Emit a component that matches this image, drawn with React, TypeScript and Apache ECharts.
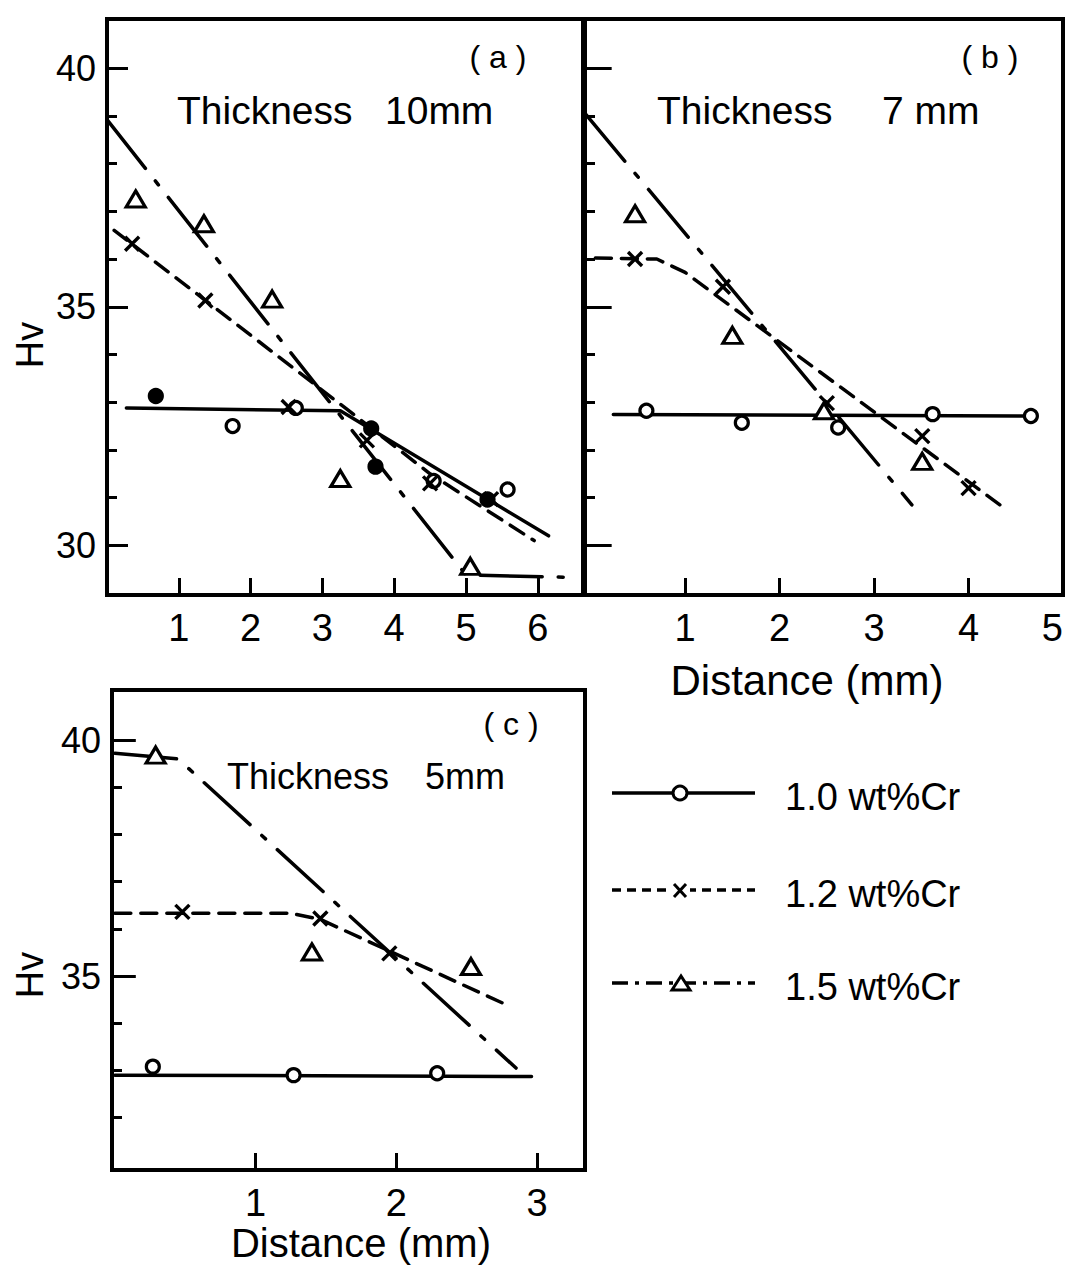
import React, { useEffect, useRef } from "react";
import * as echarts from "echarts";

// ---------------- data ----------------
const seriesNames = ["1.0 wt%Cr", "1.2 wt%Cr", "1.5 wt%Cr"];
const panelTitles = ["Thickness", "Thickness", "Thickness"];
const panelThickness = ["10mm", "7 mm", "5mm"];
const panelTags = ["( a )", "( b )", "( c )"];

// tick values
const xTicksA = [1, 2, 3, 4, 5, 6];
const xTicksB = [1, 2, 3, 4];
const xLabelsB = [1, 2, 3, 4, 5];
const xTicksC = [1, 2, 3];
const yTicksAB = [30, 31, 32, 33, 34, 35, 36, 37, 38, 39, 40];
const yTicksC = [32, 33, 34, 35, 36, 37, 38, 39, 40];
const yMajorAB = [30, 35, 40];
const yMajorC = [35, 40];
const yLabelsAB = [30, 35, 40];
const yLabelsC = [35, 40];

// Panel (a) thickness 10 mm
const a10Pts = [[0.68, 33.13], [1.75, 32.5], [2.63, 32.88], [3.68, 32.45], [3.74, 31.65], [4.55, 31.35], [5.3, 30.96], [5.58, 31.17]];
const a10Filled = [true, false, false, true, true, false, true, false];
const a12Pts = [[0.35, 36.32], [1.37, 35.13], [2.53, 32.9], [3.62, 32.2], [4.5, 31.3], [5.35, 30.97]];
const a15Pts = [[0.4, 37.26], [1.35, 36.74], [2.3, 35.16], [3.25, 31.4], [5.06, 29.56]];
const a10Fit = [[0.27, 32.88], [3.25, 32.82], [6.15, 30.2]];
const a12Fit = [[0.1, 36.6], [1.4, 35.1], [3.3, 32.9], [4.5, 31.5], [5.95, 30.1]];
const a15Fit = [[0, 38.92], [5.0, 29.38], [6.47, 29.33]];

// Panel (b) thickness 7 mm
const b10Pts = [[0.59, 32.82], [1.6, 32.57], [2.62, 32.47], [3.62, 32.75], [4.66, 32.71]];
const b12Pts = [[0.47, 36.0], [1.4, 35.42], [2.5, 32.98], [3.51, 32.29], [4.0, 31.2]];
const b15Pts = [[0.47, 36.95], [1.5, 34.4], [2.47, 32.82], [3.51, 31.76]];
const b10Fit = [[0.24, 32.74], [4.72, 32.71]];
const b12Fit = [[0.05, 36.02], [0.7, 36.0], [1.0, 35.72], [4.4, 30.75]];
const b15Fit = [[-0.06, 39.05], [3.4, 30.85]];

// Panel (c) thickness 5 mm
const c10Pts = [[0.27, 33.08], [1.27, 32.9], [2.29, 32.94]];
const c12Pts = [[0.48, 36.36], [1.46, 36.22], [1.95, 35.48]];
const c15Pts = [[0.29, 39.68], [1.4, 35.51], [2.53, 35.2]];
const c10Fit = [[0.0, 32.9], [2.96, 32.87]];
const c12Fit = [[0.0, 36.33], [1.25, 36.33], [1.46, 36.2], [2.76, 34.42]];
const c15Fit = [[0.0, 39.72], [0.45, 39.6], [2.85, 33.05]];

// axis ranges
const xRangeA = [0, 6.63];
const xRangeB = [-0.06, 5.0];
const xRangeC = [-0.02, 3.34];
const yRangeAB = [28.96, 41.03];
const yRangeC = [30.89, 41.06];

// ---------------- styling ----------------
const FONT = "'Liberation Sans', Arial, sans-serif";
const INK = "#000";
const CROSS = "path://M0,0L10,10M10,0L0,10";
const DASH: any[] = ["solid", [16, 10], [62, 16, 5, 16]];

const markerStyles: any[] = [
  { symbol: "circle", symbolSize: 13, itemStyle: { color: "#fff", borderColor: INK, borderWidth: 3.2, opacity: 1 } },
  { symbol: CROSS, symbolSize: 14, itemStyle: { color: "rgba(0,0,0,0)", borderColor: INK, borderWidth: 3.4, opacity: 1 } },
  { symbol: "triangle", symbolSize: [19, 16], itemStyle: { color: "#fff", borderColor: INK, borderWidth: 3.2, opacity: 1 } },
];

const grids = [
  { left: 107, top: 19, width: 476, height: 576 },
  { left: 585, top: 19, width: 478, height: 576 },
  { left: 112, top: 690, width: 473, height: 480 },
];

function buildOption() {
  const gridOpts = grids.map((g) => ({
    ...g,
    show: true,
    borderColor: INK,
    borderWidth: 4,
    backgroundColor: "transparent",
    containLabel: false,
    outerBoundsMode: "none",
  }));

  const xCfg = [
    { range: xRangeA, ticks: xTicksA, labels: xTicksA },
    { range: xRangeB, ticks: xTicksB, labels: xLabelsB },
    { range: xRangeC, ticks: xTicksC, labels: xTicksC },
  ];
  const xAxis = xCfg.map((c, i) => ({
    type: "value",
    gridIndex: i,
    min: c.range[0],
    max: c.range[1],
    axisLine: { show: true, onZero: false, lineStyle: { color: INK, width: 4 } },
    axisTick: { show: true, inside: true, length: 17, lineStyle: { color: INK, width: 3 }, customValues: c.ticks },
    axisLabel: {
      show: true,
      customValues: c.labels,
      color: INK,
      fontSize: 38,
      fontFamily: FONT,
      margin: 14,
      showMinLabel: true,
      showMaxLabel: true,
      alignMaxLabel: i === 1 ? "right" : undefined,
    },
    splitLine: { show: false },
  }));

  const yCfg = [
    { range: yRangeAB, ticks: yTicksAB, major: yMajorAB, labels: yLabelsAB, showLabel: true },
    { range: yRangeAB, ticks: yTicksAB, major: yMajorAB, labels: yLabelsAB, showLabel: false },
    { range: yRangeC, ticks: yTicksC, major: yMajorC, labels: yLabelsC, showLabel: true },
  ];
  const yAxis: any[] = [];
  yCfg.forEach((c, i) => {
    yAxis.push({
      type: "value",
      gridIndex: i,
      position: "left",
      min: c.range[0],
      max: c.range[1],
      axisLine: { show: true, onZero: false, lineStyle: { color: INK, width: 4 } },
      axisTick: { show: true, inside: true, length: 10, lineStyle: { color: INK, width: 3 }, customValues: c.ticks },
      axisLabel: {
        show: c.showLabel,
        customValues: c.labels,
        color: INK,
        fontSize: 36,
        fontFamily: FONT,
        margin: 11,
      },
      splitLine: { show: false },
    });
    yAxis.push({
      type: "value",
      gridIndex: i,
      position: "left",
      offset: 0,
      min: c.range[0],
      max: c.range[1],
      axisLine: { show: false },
      axisTick: { show: true, inside: true, length: 21, lineStyle: { color: INK, width: 3 }, customValues: c.major },
      axisLabel: { show: false },
      splitLine: { show: false },
    });
  });

  const panels = [
    { pts: [a10Pts, a12Pts, a15Pts], fits: [a10Fit, a12Fit, a15Fit], filled: a10Filled },
    { pts: [b10Pts, b12Pts, b15Pts], fits: [b10Fit, b12Fit, b15Fit], filled: null },
    { pts: [c10Pts, c12Pts, c15Pts], fits: [c10Fit, c12Fit, c15Fit], filled: null },
  ];

  const series: any[] = [];
  panels.forEach((p, pi) => {
    p.fits.forEach((fit, k) => {
      series.push({
        type: "line",
        name: seriesNames[k] + " fit",
        xAxisIndex: pi,
        yAxisIndex: pi * 2,
        data: fit,
        symbol: "none",
        showSymbol: false,
        silent: true,
        z: 3,
        lineStyle: { color: INK, width: 3.5, type: DASH[k], cap: "round", opacity: 1 },
      });
    });
    p.pts.forEach((pts, k) => {
      const data = pts.map((v, j) =>
        k === 0 && p.filled && p.filled[j]
          ? { value: v, itemStyle: { color: INK } }
          : { value: v }
      );
      series.push({
        type: "scatter",
        name: seriesNames[k],
        xAxisIndex: pi,
        yAxisIndex: pi * 2,
        data,
        z: 5,
        ...markerStyles[k],
      });
    });
  });

  // texts
  const txt = (text: string, x: number, y: number, size: number, align = "left", rotation = 0) => ({
    type: "text",
    x,
    y,
    rotation,
    silent: true,
    style: { text, fill: INK, font: `${size}px ${FONT}`, align, verticalAlign: "middle" },
  });

  const graphic: any[] = [
    // panel titles
    txt(panelTitles[0], 177, 110, 39),
    txt(panelThickness[0], 385, 110, 39),
    txt(panelTags[0], 498, 57, 32, "center"),
    txt(panelTitles[1], 657, 110, 39),
    txt(panelThickness[1], 882, 110, 39),
    txt(panelTags[1], 990, 57, 32, "center"),
    txt(panelTitles[2], 227, 776, 36),
    txt(panelThickness[2], 425, 776, 36),
    txt(panelTags[2], 511, 724, 32, "center"),
    // axis titles
    txt("Distance (mm)", 807, 680, 42, "center"),
    txt("Distance (mm)", 361, 1243, 40, "center"),
    txt("Hv", 30, 345, 38, "center", Math.PI / 2),
    txt("Hv", 30, 975, 38, "center", Math.PI / 2),
  ];

  // legend (drawn)
  const legendY = [793, 890, 983];
  const legendDash: any[] = [null, [9, 6], [16, 7, 4, 7]];
  legendY.forEach((y, k) => {
    graphic.push({
      type: "line",
      silent: true,
      shape: { x1: 612, y1: y, x2: 755, y2: y },
      style: { stroke: INK, lineWidth: 3.5, lineDash: legendDash[k] || undefined },
    });
    if (k === 0) {
      graphic.push({
        type: "circle",
        silent: true,
        shape: { cx: 680, cy: y, r: 7 },
        style: { fill: "#fff", stroke: INK, lineWidth: 3 },
      });
    } else if (k === 1) {
      graphic.push({ type: "rect", silent: true, shape: { x: 670, y: y - 8, width: 20, height: 16 }, style: { fill: "#fff" } });
      graphic.push({ type: "line", silent: true, shape: { x1: 674, y1: y - 6, x2: 686, y2: y + 7 }, style: { stroke: INK, lineWidth: 3 } });
      graphic.push({ type: "line", silent: true, shape: { x1: 686, y1: y - 6, x2: 674, y2: y + 7 }, style: { stroke: INK, lineWidth: 3 } });
    } else {
      graphic.push({
        type: "polygon",
        silent: true,
        shape: { points: [[681, y - 7], [672, y + 7], [690, y + 7]] },
        style: { fill: "#fff", stroke: INK, lineWidth: 3 },
      });
    }
    graphic.push(txt(seriesNames[k], 785, y + 4, 38));
  });

  return {
    animation: false,
    backgroundColor: "#fff",
    textStyle: { fontFamily: FONT, color: INK },
    grid: gridOpts,
    xAxis,
    yAxis,
    series,
    graphic,
  };
}

export default function App() {
  const ref = useRef<HTMLDivElement>(null);
  useEffect(() => {
    document.body.style.margin = "0";
    const chart = echarts.init(ref.current as HTMLDivElement, null, { renderer: "svg" });
    chart.setOption(buildOption() as any);
    return () => chart.dispose();
  }, []);
  return <div ref={ref} style={{ width: 1072, height: 1267, background: "#fff" }} />;
}
